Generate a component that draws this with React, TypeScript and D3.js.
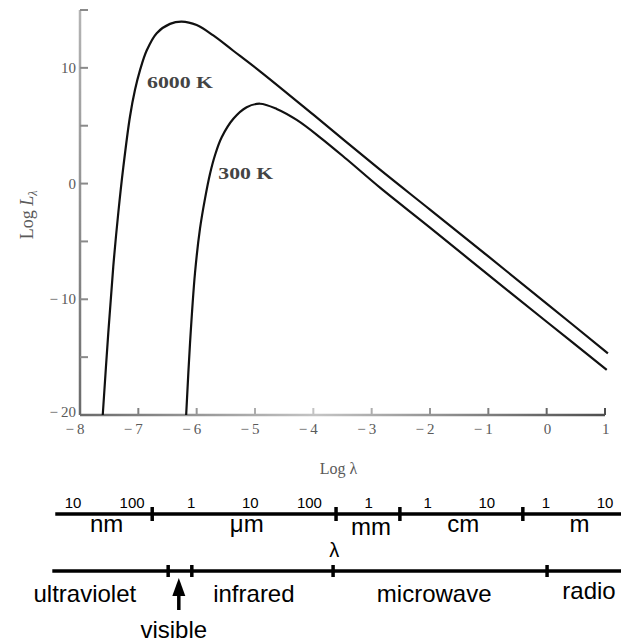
import React from 'react';
import * as d3 from 'd3';

const W = 621;
const H = 644;

// ---- Blackbody curves (log λ in m, log L_λ) ----
const logLambda6000 = [-7.61, -7.515, -7.43, -7.343, -7.258, -7.143, -7.057, -6.971, -6.857, -6.685, -6.457, -6.257, -6.0, -5.715, -5.378, -4.914, -4.0, -2.857, -2.0, -1.0, 0.0, 1.05];
const logL6000 = [-20, -12.9, -7.2, -2.5, 1.4, 5.8, 8.1, 9.8, 11.5, 13.0, 13.8, 14.0, 13.7, 12.8, 11.5, 9.7, 5.95, 1.2, -2.25, -6.3, -10.37, -14.67];
const logLambda300 = [-6.18, -6.114, -6.029, -5.943, -5.857, -5.771, -5.686, -5.571, -5.371, -5.143, -4.914, -4.628, -4.285, -3.886, -3.428, -2.857, -2.0, -1.0, 0.0, 1.03];
const logL300 = [-20, -13.8, -7.75, -3.9, -1.3, 0.85, 2.45, 4.0, 5.6, 6.6, 6.9, 6.45, 5.5, 4.0, 2.1, -0.35, -3.8, -7.89, -11.94, -16.1];

const curveNames = ['6000 K', '300 K'];
const curveLabelLogLambda = [-6.85, -5.63];
const curveLabelLogL = [8.25, 0.4];

const xTicks = [-8, -7, -6, -5, -4, -3, -2, -1, 0, 1];
const yTicks = [-20, -15, -10, -5, 0, 5, 10, 15];
const yTickLabels = [-20, -10, 0, 10];

// ---- Wavelength scale bars below ----
const scaleNumbers = ['10', '100', '1', '10', '100', '1', '1', '10', '1', '10'];
const scaleNumberLogLambda = [-8, -7, -6, -5, -4, -3, -2, -1, 0, 1];
const unitNames = ['nm', 'μm', 'mm', 'cm', 'm'];
const unitLabelLogLambda = [-7.43, -5.06, -2.96, -1.4, 0.57];
const unitBoundaryLogLambda = [-6.66, -3.55, -2.47, -0.39];
const bandNames = ['ultraviolet', 'infrared', 'microwave', 'radio'];
const bandLabelLogLambda = [-7.8, -4.94, -1.89, 0.73];
const bandBoundaryLogLambda = [-6.39, -5.99, -3.6, 0.02];
const visibleName = 'visible';
const visibleLogLambda = -6.21;

const serif = '"Liberation Serif", "Times New Roman", serif';
const sans = '"Liberation Sans", Arial, sans-serif';

const fmtMinus = (v: number) => (v < 0 ? '\u2212\u2009' + Math.abs(v) : String(v));

export default function App() {
  const x = d3.scaleLinear().domain([-8, 1]).range([80, 605]);
  const y = d3.scaleLinear().domain([-20, 15]).range([415, 10]);
  const bx = d3.scaleLinear().domain([-8, 1]).range([73, 605]);

  const line = d3
    .line<[number, number]>()
    .x((d) => x(d[0]))
    .y((d) => y(d[1]))
    .curve(d3.curveCatmullRom.alpha(0.5));

  const series: [number, number][][] = [
    logLambda6000.map((l, i) => [l, logL6000[i]] as [number, number]),
    logLambda300.map((l, i) => [l, logL300[i]] as [number, number]),
  ];

  const bar1Y = 514;
  const bar2Y = 571;
  const barStart = -8.3;
  const barEnd = 1.3;

  return (
    <svg
      width={W}
      height={H}
      viewBox={`0 0 ${W} ${H}`}
      style={{ position: 'absolute', left: 0, top: 0, background: '#fff' }}
    >
      <defs>
        <linearGradient id="xAxisGrad" gradientUnits="userSpaceOnUse" x1={x(-8)} y1={0} x2={x(1)} y2={0}>
          <stop offset="0" stopColor="#6a6a6a" />
          <stop offset="0.45" stopColor="#c4c4c4" />
          <stop offset="1" stopColor="#4e4e4e" />
        </linearGradient>
        <linearGradient id="yAxisGrad" gradientUnits="userSpaceOnUse" x1={0} y1={y(15)} x2={0} y2={y(-20)}>
          <stop offset="0" stopColor="#b4b4b4" />
          <stop offset="1" stopColor="#6a6a6a" />
        </linearGradient>
      </defs>

      {/* y axis */}
      <line x1={x(-8)} x2={x(-8)} y1={y(15)} y2={y(-20)} stroke="url(#yAxisGrad)" strokeWidth={2.5} />
      {yTicks.map((t) => (
        <line key={'yt' + t} x1={x(-8)} x2={x(-8) + 8} y1={y(t)} y2={y(t)} stroke="#8a8a8a" strokeWidth={2} />
      ))}
      {yTickLabels.map((t) => (
        <text
          key={'yl' + t}
          x={x(-8) - 4}
          y={y(t) + (t === -20 ? 2 : 5)}
          textAnchor="end"
          fontFamily={serif}
          fontSize={15}
          fill="#5a5a5a"
        >
          {fmtMinus(t)}
        </text>
      ))}

      {/* x axis */}
      <line x1={x(-8)} x2={x(1)} y1={y(-20)} y2={y(-20)} stroke="url(#xAxisGrad)" strokeWidth={2.5} />
      {xTicks.map((t) => (
        <line key={'xt' + t} x1={x(t)} x2={x(t)} y1={y(-20)} y2={y(-20) - 7} stroke="url(#xAxisGrad)" strokeWidth={2} />
      ))}
      {xTicks.map((t) => (
        <text
          key={'xl' + t}
          x={x(t) + 4.5}
          y={y(-20) + 18.5}
          textAnchor="end"
          fontFamily={serif}
          fontSize={15}
          fill="#5a5a5a"
        >
          {fmtMinus(t)}
        </text>
      ))}

      {/* axis titles */}
      <text x={(x(-8) + x(1)) / 2 - 4} y={474} textAnchor="middle" fontFamily={serif} fontSize={16} fill="#5a5a5a">
        Log λ
      </text>
      <text
        transform={`translate(33, ${y(-2.7)}) rotate(-90)`}
        textAnchor="middle"
        fontFamily={serif}
        fontSize={18}
        fill="#5a5a5a"
      >
        Log <tspan fontStyle="italic">L</tspan>
        <tspan fontSize={12} dy={4} fontStyle="italic">λ</tspan>
      </text>

      {/* curves */}
      {series.map((s, i) => (
        <path key={'c' + i} d={line(s) || ''} fill="none" stroke="#111" strokeWidth={2.2} strokeLinejoin="round" />
      ))}
      {curveNames.map((n, i) => (
        <text
          key={'cn' + i}
          x={x(curveLabelLogLambda[i])}
          y={y(curveLabelLogL[i])}
          fontFamily={serif}
          fontSize={17}
          fontWeight="bold"
          fill="#444"
          textLength={i === 0 ? 66 : 55}
          lengthAdjust="spacingAndGlyphs"
        >
          {n}
        </text>
      ))}

      {/* wavelength units bar */}
      <line x1={bx(barStart)} x2={bx(barEnd)} y1={bar1Y} y2={bar1Y} stroke="#000" strokeWidth={3.5} />
      {unitBoundaryLogLambda.map((b, i) => (
        <line key={'ub' + i} x1={bx(b)} x2={bx(b)} y1={bar1Y - 7} y2={bar1Y + 7} stroke="#000" strokeWidth={3.5} />
      ))}
      {scaleNumbers.map((s, i) => (
        <text
          key={'sn' + i}
          x={bx(scaleNumberLogLambda[i])}
          y={508}
          textAnchor="middle"
          fontFamily={sans}
          fontSize={15}
          fill="#000"
        >
          {s}
        </text>
      ))}
      {unitNames.map((u, i) => (
        <text
          key={'un' + i}
          x={bx(unitLabelLogLambda[i])}
          y={i === 2 ? 535 : 532}
          textAnchor="middle"
          fontFamily={sans}
          fontSize={24}
          fill="#000"
        >
          {u}
        </text>
      ))}
      <text x={bx(-3.58)} y={557} textAnchor="middle" fontFamily={sans} fontSize={20} fill="#000">
        λ
      </text>

      {/* spectral bands bar */}
      <line x1={bx(barStart - 0.05)} x2={bx(barEnd)} y1={bar2Y} y2={bar2Y} stroke="#000" strokeWidth={3.5} />
      {bandBoundaryLogLambda.map((b, i) => (
        <line key={'bb' + i} x1={bx(b)} x2={bx(b)} y1={bar2Y - 6} y2={bar2Y + 6} stroke="#000" strokeWidth={3.5} />
      ))}
      {bandNames.map((b, i) => (
        <text
          key={'bn' + i}
          x={bx(bandLabelLogLambda[i])}
          y={i === 3 ? 599 : 602}
          textAnchor="middle"
          fontFamily={sans}
          fontSize={24}
          fill="#000"
        >
          {b}
        </text>
      ))}
      {/* visible arrow */}
      <line x1={bx(visibleLogLambda)} x2={bx(visibleLogLambda)} y1={592} y2={610} stroke="#000" strokeWidth={3.5} />
      <path
        d={`M${bx(visibleLogLambda)},578 L${bx(visibleLogLambda) - 6.5},596 L${bx(visibleLogLambda) + 6.5},596 Z`}
        fill="#000"
      />
      <text x={bx(visibleLogLambda) - 5} y={638} textAnchor="middle" fontFamily={sans} fontSize={24} fill="#000">
        {visibleName}
      </text>
    </svg>
  );
}
